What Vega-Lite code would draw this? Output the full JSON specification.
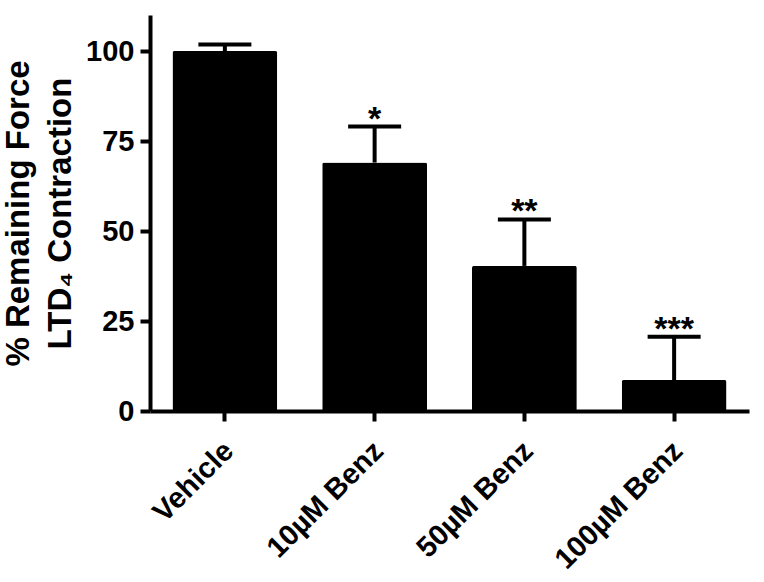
{
  "$schema": "https://vega.github.io/schema/vega-lite/v6.json",
  "autosize": "none",
  "width": 599,
  "height": 396,
  "padding": {"left": 150, "top": 15, "right": 15, "bottom": 171},
  "background": "white",
  "config": {
    "view": {"stroke": null},
    "font": "Liberation Sans",
    "axis": {
      "grid": false,
      "domainColor": "black",
      "domainWidth": 4,
      "tickColor": "black",
      "tickWidth": 4,
      "tickSize": 10,
      "labelColor": "black",
      "labelFont": "Liberation Sans",
      "labelFontWeight": "bold",
      "labelFontSize": 29,
      "titleColor": "black",
      "titleFont": "Liberation Sans",
      "titleFontWeight": "bold"
    }
  },
  "data": {
    "values": [
      {"group": "Vehicle", "value": 100, "upper": 101.8, "stars": ""},
      {"group": "10µM Benz", "value": 69, "upper": 79, "stars": "*"},
      {"group": "50µM Benz", "value": 40.3, "upper": 53.2, "stars": "**"},
      {"group": "100µM Benz", "value": 8.6, "upper": 20.6, "stars": "***"}
    ]
  },
  "encoding": {
    "x": {
      "field": "group",
      "type": "nominal",
      "sort": null,
      "scale": {"paddingInner": 0.3, "paddingOuter": 0.15},
      "axis": {"title": null, "labelAngle": -45, "labelPadding": 15, "labelOffset": -6}
    }
  },
  "layer": [
    {
      "mark": {"type": "rule", "strokeWidth": 4, "color": "black"},
      "encoding": {
        "y": {"field": "value", "type": "quantitative"},
        "y2": {"field": "upper"}
      }
    },
    {
      "mark": {"type": "tick", "size": 53, "thickness": 4, "color": "black", "opacity": 1},
      "encoding": {
        "y": {"field": "upper", "type": "quantitative"}
      }
    },
    {
      "mark": {"type": "bar", "color": "black", "cornerRadius": 2},
      "encoding": {
        "y": {
          "field": "value",
          "type": "quantitative",
          "scale": {"domain": [0, 110], "nice": false},
          "axis": {
            "values": [0, 25, 50, 75, 100],
            "title": ["% Remaining Force", "LTD₄ Contraction"],
            "titleFontSize": 33,
            "titleLineHeight": 42,
            "titlePadding": 8,
            "labelPadding": 6
          }
        }
      }
    },
    {
      "mark": {"type": "text", "fontSize": 34, "fontWeight": "bold", "color": "black", "baseline": "alphabetic", "dy": 3, "font": "Liberation Sans"},
      "encoding": {
        "y": {"field": "upper", "type": "quantitative"},
        "text": {"field": "stars"}
      }
    }
  ]
}
